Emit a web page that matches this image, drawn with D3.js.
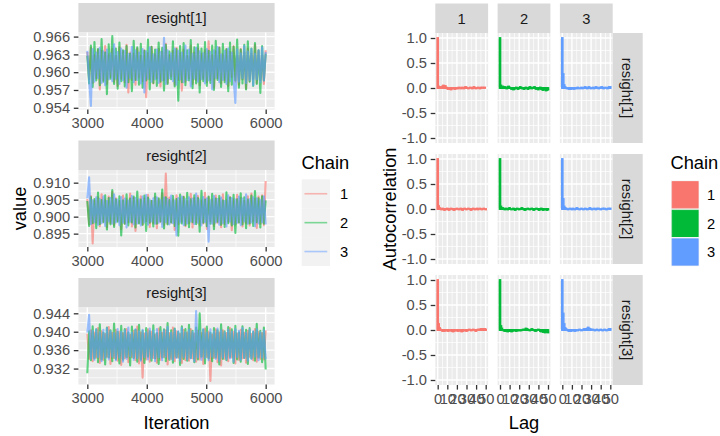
<!DOCTYPE html>
<html><head><meta charset="utf-8">
<script src="https://cdn.jsdelivr.net/npm/d3@7"></script>
<style>
body{margin:0;background:#fff}
svg{display:block}
text{font-family:"Liberation Sans",Arial,Helvetica,sans-serif}
</style>
</head><body>
<svg id="chart" width="720" height="436"></svg>
<script>
// ---- data ----
const parameters = ["resight[1]", "resight[2]", "resight[3]"];
const chains = ["1", "2", "3"];
const chainColors = ["#F8766D", "#00BA38", "#619CFF"];
const iterStart = 3000;
const iterStep = 30;
const iterTicks = [3000, 4000, 5000, 6000];

// thinned trace values, one array per parameter and chain
const traceP1C1 = [
0.9634,0.9588,0.9641,0.9582,0.9629,0.9590,0.9638,0.9571,0.9636,0.9586,
0.9644,0.9580,0.9630,0.9592,0.9639,0.9584,0.9627,0.9577,0.9642,0.9589,
0.9635,0.9583,0.9646,0.9566,0.9633,0.9587,0.9631,0.9579,0.9640,0.9591,
0.9628,0.9585,0.9637,0.9558,0.9632,0.9588,0.9643,0.9581,0.9630,0.9590,
0.9639,0.9576,0.9634,0.9586,0.9648,0.9582,0.9629,0.9593,0.9636,0.9579,
0.9641,0.9587,0.9632,0.9569,0.9638,0.9584,0.9627,0.9590,0.9645,0.9580,
0.9633,0.9586,0.9640,0.9578,0.9631,0.9589,0.9637,0.9583,0.9652,0.9587,
0.9629,0.9574,0.9635,0.9590,0.9642,0.9581,0.9630,0.9586,0.9638,0.9577,
0.9634,0.9592,0.9644,0.9584,0.9628,0.9579,0.9639,0.9588,0.9633,0.9572,
0.9640,0.9585,0.9631,0.9589,0.9646,0.9582,0.9636,0.9587,0.9629,0.9580,
0.9637];
const traceP1C2 = [
0.9628,0.9581,0.9645,0.9575,0.9651,0.9586,0.9639,0.9578,0.9656,0.9584,
0.9633,0.9563,0.9647,0.9589,0.9661,0.9580,0.9640,0.9572,0.9650,0.9585,
0.9637,0.9576,0.9644,0.9583,0.9631,0.9568,0.9653,0.9587,0.9642,0.9579,
0.9648,0.9574,0.9636,0.9586,0.9655,0.9571,0.9643,0.9582,0.9638,0.9577,
0.9650,0.9584,0.9641,0.9569,0.9646,0.9580,0.9635,0.9588,0.9652,0.9576,
0.9639,0.9552,0.9644,0.9583,0.9649,0.9578,0.9637,0.9586,0.9654,0.9573,
0.9642,0.9581,0.9647,0.9566,0.9640,0.9585,0.9651,0.9577,0.9636,0.9582,
0.9645,0.9570,0.9653,0.9587,0.9641,0.9575,0.9648,0.9583,0.9639,0.9568,
0.9650,0.9579,0.9643,0.9586,0.9655,0.9574,0.9638,0.9581,0.9646,0.9571,
0.9652,0.9584,0.9640,0.9577,0.9649,0.9580,0.9637,0.9565,0.9644,0.9586,
0.9631];
const traceP1C3 = [
0.9636,0.9587,0.9543,0.9639,0.9584,0.9633,0.9590,0.9641,0.9582,0.9635,
0.9578,0.9638,0.9588,0.9632,0.9585,0.9647,0.9589,0.9634,0.9580,0.9640,
0.9586,0.9636,0.9574,0.9631,0.9590,0.9643,0.9583,0.9637,0.9587,0.9633,
0.9581,0.9639,0.9566,0.9635,0.9589,0.9642,0.9584,0.9630,0.9588,0.9638,
0.9582,0.9634,0.9586,0.9658,0.9580,0.9637,0.9590,0.9632,0.9585,0.9640,
0.9579,0.9636,0.9588,0.9633,0.9583,0.9645,0.9587,0.9638,0.9576,0.9631,
0.9589,0.9641,0.9584,0.9635,0.9588,0.9632,0.9581,0.9639,0.9586,0.9634,
0.9571,0.9637,0.9590,0.9643,0.9583,0.9630,0.9587,0.9636,0.9580,0.9640,
0.9585,0.9633,0.9589,0.9548,0.9638,0.9584,0.9632,0.9590,0.9644,0.9582,
0.9635,0.9587,0.9639,0.9578,0.9631,0.9588,0.9637,0.9583,0.9642,0.9586,
0.9634];

const traceP2C1 = [
0.9052,0.8978,0.9061,0.8921,0.9048,0.8983,0.9057,0.8972,0.9066,0.8986,
0.9050,0.8969,0.9059,0.8981,0.9073,0.8975,0.9054,0.8988,0.9046,0.8963,
0.9062,0.8979,0.9051,0.8984,0.9068,0.8971,0.9055,0.8958,0.9049,0.8982,
0.9060,0.8976,0.9053,0.8987,0.9064,0.8970,0.9047,0.8980,0.9058,0.8966,
0.9051,0.8985,0.9069,0.8974,0.9127,0.8979,0.9056,0.8983,0.9050,0.8961,
0.9063,0.8977,0.9052,0.8986,0.9059,0.8972,0.9045,0.8981,0.9067,0.8968,
0.9054,0.8984,0.9061,0.8975,0.9048,0.8980,0.9070,0.8964,0.9057,0.8987,
0.9050,0.8973,0.9062,0.8982,0.9053,0.8969,0.9066,0.8978,0.9049,0.8985,
0.9058,0.8960,0.9051,0.8976,0.9064,0.8983,0.9055,0.8971,0.9047,0.8980,
0.9060,0.8974,0.9068,0.8986,0.9052,0.8967,0.9059,0.8979,0.9063,0.8975,
0.9105];
const traceP2C2 = [
0.9046,0.8973,0.9058,0.8981,0.9052,0.8966,0.9071,0.8978,0.9049,0.8984,
0.9063,0.8962,0.9055,0.8977,0.9078,0.8970,0.9051,0.8985,0.9060,0.8945,
0.9048,0.8979,0.9066,0.8974,0.9053,0.8983,0.9059,0.8968,0.9074,0.8980,
0.9050,0.8976,0.9062,0.8958,0.9056,0.8982,0.9047,0.8971,0.9068,0.8979,
0.9054,0.8986,0.9080,0.8965,0.9057,0.8977,0.9049,0.8983,0.9061,0.8973,
0.9052,0.8944,0.9065,0.8980,0.9058,0.8975,0.9070,0.8969,0.9051,0.8984,
0.9063,0.8978,0.9055,0.8956,0.9076,0.8982,0.9050,0.8972,0.9059,0.8979,
0.9067,0.8963,0.9053,0.8985,0.9061,0.8976,0.9048,0.8970,0.9072,0.8981,
0.9056,0.8974,0.9064,0.8952,0.9051,0.8983,0.9069,0.8977,0.9057,0.8966,
0.9050,0.8980,0.9062,0.8973,0.9075,0.8984,0.9054,0.8968,0.9060,0.8979,
0.9048];
const traceP2C3 = [
0.9054,0.9116,0.8978,0.9049,0.8984,0.9057,0.8976,0.9052,0.8981,0.9060,
0.8973,0.9047,0.8986,0.9055,0.8979,0.9066,0.8983,0.9050,0.8975,0.9058,
0.8982,0.9053,0.8968,0.9048,0.8985,0.9061,0.8977,0.9055,0.8980,0.9051,
0.8974,0.9059,0.8983,0.9064,0.8976,0.9050,0.8986,0.9054,0.8979,0.9057,
0.8982,0.9049,0.8970,0.9056,0.8984,0.9052,0.8977,0.9062,0.8981,0.9048,
0.8945,0.9055,0.8983,0.9059,0.8975,0.9051,0.8980,0.9057,0.8986,0.9053,
0.8978,0.9068,0.8982,0.9050,0.8974,0.9058,0.8984,0.9054,0.8926,0.9049,
0.8979,0.9061,0.8983,0.9052,0.8976,0.9056,0.8981,0.9047,0.8971,0.9063,
0.8985,0.9055,0.8978,0.9050,0.8982,0.9059,0.8975,0.9053,0.8986,0.9066,
0.8979,0.9051,0.8983,0.9057,0.8972,0.9054,0.8980,0.9049,0.8984,0.9060,
0.8977];

const traceP3C1 = [
0.9396,0.9341,0.9403,0.9336,0.9399,0.9344,0.9408,0.9332,0.9401,0.9339,
0.9395,0.9346,0.9410,0.9330,0.9398,0.9343,0.9404,0.9337,0.9400,0.9328,
0.9397,0.9342,0.9406,0.9334,0.9393,0.9345,0.9402,0.9338,0.9411,0.9331,
0.9399,0.9300,0.9396,0.9340,0.9405,0.9335,0.9400,0.9343,0.9394,0.9333,
0.9407,0.9339,0.9398,0.9345,0.9403,0.9329,0.9397,0.9341,0.9409,0.9336,
0.9401,0.9344,0.9395,0.9332,0.9404,0.9338,0.9399,0.9337,0.9406,0.9342,
0.9396,0.9335,0.9402,0.9340,0.9398,0.9330,0.9407,0.9345,0.9400,0.9293,
0.9394,0.9343,0.9405,0.9334,0.9399,0.9327,0.9403,0.9341,0.9397,0.9336,
0.9408,0.9344,0.9400,0.9331,0.9396,0.9339,0.9404,0.9342,0.9398,0.9333,
0.9402,0.9346,0.9395,0.9338,0.9406,0.9335,0.9400,0.9341,0.9397,0.9340,
0.9403];
const traceP3C2 = [
0.9310,0.9401,0.9338,0.9412,0.9342,0.9405,0.9334,0.9416,0.9340,0.9398,
0.9329,0.9409,0.9344,0.9403,0.9336,0.9418,0.9341,0.9400,0.9331,0.9413,
0.9339,0.9406,0.9345,0.9399,0.9327,0.9411,0.9343,0.9404,0.9335,0.9415,
0.9340,0.9402,0.9332,0.9408,0.9346,0.9401,0.9337,0.9414,0.9342,0.9397,
0.9330,0.9410,0.9344,0.9405,0.9336,0.9419,0.9339,0.9403,0.9333,0.9407,
0.9345,0.9400,0.9328,0.9412,0.9341,0.9406,0.9337,0.9415,0.9343,0.9402,
0.9334,0.9409,0.9340,0.9440,0.9346,0.9404,0.9331,0.9411,0.9342,0.9398,
0.9336,0.9408,0.9344,0.9403,0.9329,0.9416,0.9341,0.9401,0.9338,0.9410,
0.9345,0.9405,0.9332,0.9413,0.9340,0.9399,0.9335,0.9412,0.9343,0.9404,
0.9330,0.9408,0.9342,0.9400,0.9337,0.9417,0.9344,0.9402,0.9334,0.9409,
0.9318];
const traceP3C3 = [
0.9398,0.9437,0.9342,0.9402,0.9339,0.9405,0.9345,0.9399,0.9336,0.9404,
0.9343,0.9408,0.9340,0.9401,0.9346,0.9397,0.9338,0.9406,0.9344,0.9400,
0.9335,0.9403,0.9341,0.9409,0.9347,0.9398,0.9339,0.9405,0.9343,0.9401,
0.9337,0.9404,0.9345,0.9399,0.9340,0.9407,0.9342,0.9402,0.9336,0.9406,
0.9344,0.9400,0.9338,0.9403,0.9346,0.9410,0.9341,0.9398,0.9339,0.9405,
0.9343,0.9401,0.9337,0.9408,0.9345,0.9399,0.9340,0.9404,0.9342,0.9400,
0.9336,0.9445,0.9344,0.9402,0.9339,0.9406,0.9343,0.9398,0.9338,0.9405,
0.9346,0.9401,0.9341,0.9407,0.9337,0.9403,0.9344,0.9399,0.9340,0.9404,
0.9342,0.9400,0.9335,0.9406,0.9345,0.9402,0.9339,0.9408,0.9343,0.9398,
0.9337,0.9404,0.9341,0.9401,0.9346,0.9405,0.9338,0.9399,0.9344,0.9403,
0.9340];

const traceTicksP1 = [0.954, 0.957, 0.960, 0.963, 0.966];
const traceTicksP2 = [0.895, 0.900, 0.905, 0.910];
const traceTicksP3 = [0.932, 0.936, 0.940, 0.944];

// autocorrelation by lag 0..50, one array per parameter and chain
const acfP1C1 = [1.00,0.03,0.01,0.02,0.00,0.03,0.05,0.02,0.04,0.01,
 -0.01,-0.02,0.00,-0.02,-0.03,-0.01,0.00,-0.01,-0.02,-0.01,
 0.00,-0.01,0.01,0.00,-0.01,0.01,0.00,-0.01,0.01,0.02,
 0.01,0.00,-0.01,0.00,0.01,0.00,-0.01,0.01,0.02,0.00,
 -0.01,0.00,0.01,0.00,-0.01,0.01,0.00,0.01,0.00,0.01,0.00];
const acfP1C2 = [1.00,0.05,0.02,0.03,0.01,0.02,0.00,-0.01,0.02,0.03,
 0.01,0.00,-0.02,-0.01,-0.03,-0.02,0.00,0.01,-0.01,-0.02,
 0.00,0.02,0.01,-0.01,0.00,-0.02,-0.01,0.01,0.00,-0.02,
 -0.01,0.02,0.01,-0.01,0.00,0.01,0.02,-0.01,-0.02,0.00,
 -0.03,-0.01,0.01,-0.02,-0.03,-0.04,-0.02,-0.03,-0.05,-0.04,-0.03];
const acfP1C3 = [1.00,0.28,0.06,0.02,0.00,-0.01,0.00,-0.02,-0.01,-0.02,
 -0.01,0.00,-0.02,-0.01,0.00,-0.01,0.01,0.00,-0.01,0.00,
 0.01,-0.01,0.00,0.01,0.02,0.00,-0.01,0.01,0.02,0.00,
 -0.01,0.00,0.01,-0.01,0.00,0.02,0.01,0.00,-0.01,0.01,
 0.00,0.02,0.01,-0.01,0.00,0.01,0.00,-0.01,0.01,0.02,0.02];
const acfP2C1 = [1.00,0.06,0.02,0.00,-0.01,0.01,0.00,-0.02,-0.01,0.00,
 0.01,-0.01,-0.02,0.00,0.01,0.00,-0.01,-0.02,-0.01,0.00,
 0.01,0.00,-0.01,0.00,0.01,-0.01,-0.02,0.00,0.01,0.00,
 -0.01,0.00,0.01,0.00,-0.01,-0.02,0.00,0.01,0.00,-0.01,
 0.00,0.01,-0.01,0.00,0.01,0.00,-0.01,0.00,0.01,0.00,-0.01];
const acfP2C2 = [1.00,0.05,0.01,0.02,0.00,-0.01,0.01,0.00,-0.01,0.01,
 0.02,0.00,-0.01,0.00,0.01,-0.01,-0.02,0.00,0.01,0.00,
 -0.01,0.00,0.01,0.02,0.00,-0.01,-0.02,-0.01,0.00,0.01,
 0.00,-0.01,0.00,0.01,0.00,-0.02,-0.01,0.00,0.01,0.00,
 -0.01,-0.02,0.00,0.01,-0.01,-0.02,-0.01,0.00,-0.01,-0.02,-0.01];
const acfP2C3 = [1.00,0.20,0.05,0.02,0.01,0.00,-0.01,0.00,0.01,0.00,
 -0.01,0.01,0.00,-0.01,0.00,0.02,0.01,0.00,-0.01,0.00,
 0.01,0.00,-0.01,0.00,0.01,0.00,-0.01,0.00,0.01,0.02,
 0.00,-0.01,0.00,0.01,0.00,-0.01,0.01,0.00,0.01,0.00,
 -0.01,0.00,0.01,0.00,0.01,0.00,-0.01,0.00,0.01,0.00,0.01];
const acfP3C1 = [1.00,0.12,0.04,0.01,0.00,-0.02,-0.01,-0.02,-0.01,0.00,
 -0.01,-0.02,-0.01,0.00,-0.01,-0.02,-0.03,-0.02,-0.01,0.00,
 -0.01,-0.02,-0.01,0.00,-0.02,-0.03,-0.02,-0.01,0.00,-0.01,
 -0.02,-0.01,0.00,0.01,0.00,-0.01,0.00,0.01,0.00,-0.01,
 -0.02,0.00,0.01,0.00,0.01,0.02,0.01,0.02,0.01,0.02,0.01];
const acfP3C2 = [1.00,0.08,0.03,0.00,-0.01,-0.02,-0.01,-0.02,-0.03,-0.02,
 -0.01,-0.02,-0.03,-0.02,-0.01,0.00,-0.01,-0.02,-0.01,0.00,
 -0.01,0.00,-0.01,0.00,0.01,0.00,0.01,0.03,0.02,0.01,
 0.00,-0.01,0.00,0.02,0.01,0.00,-0.01,-0.02,-0.01,0.00,
 0.01,0.00,-0.02,-0.03,-0.02,-0.04,-0.03,-0.05,-0.04,-0.03,-0.05];
const acfP3C3 = [1.00,0.33,0.12,0.04,0.02,0.00,-0.01,-0.02,-0.01,-0.02,
 -0.01,0.00,-0.01,-0.02,-0.01,0.00,-0.01,0.00,0.01,0.00,
 -0.01,0.00,0.01,0.02,0.01,0.02,0.03,0.05,0.03,0.02,
 0.01,0.00,0.01,0.00,-0.01,0.00,0.01,0.00,-0.01,0.00,
 0.01,0.00,-0.01,0.00,0.01,0.00,-0.01,0.00,0.01,0.02,0.02];

const lagTicks = [0, 10, 20, 30, 40, 50];
const acfTicks = [-1, -0.5, 0, 0.5, 1];
const acfLimits = [-1, 1];

// ---- drawing ----
const traces = [[traceP1C1, traceP1C2, traceP1C3],
                [traceP2C1, traceP2C2, traceP2C3],
                [traceP3C1, traceP3C2, traceP3C3]];
const traceTicks = [traceTicksP1, traceTicksP2, traceTicksP3];
const acfs = [[acfP1C1, acfP1C2, acfP1C3],
              [acfP2C1, acfP2C2, acfP2C3],
              [acfP3C1, acfP3C2, acfP3C3]];

const svg = d3.select("#chart");
const PANEL = "#EBEBEB", STRIP = "#D9D9D9", TICK = "#333333", TICKTXT = "#4D4D4D";
const TXT = 14.7, TITLE = 18.3;
const TRACE_ALPHA = 0.62, TRACE_WIDTH = 2.1;

function expand([a, b], f = 0.05) { const d = (b - a) * f; return [a - d, b + d]; }
function minorOf(ticks, dom) {
  const step = ticks[1] - ticks[0];
  const out = [ticks[0] - step / 2, ...ticks.map(t => t + step / 2)];
  return out.filter(v => v > dom[0] && v < dom[1]);
}
function styleAxis(g) {
  g.select(".domain").remove();
  g.selectAll(".tick line").attr("stroke", TICK).attr("stroke-width", 1.3);
  g.selectAll(".tick text").attr("fill", TICKTXT).attr("font-size", TXT)
    .attr("font-family", "'Liberation Sans', Arial, sans-serif");
}
function grid(g, x0, x1, y0, y1, xs, ys, width, xMap, yMap) {
  xs.forEach(v => g.append("line").attr("x1", xMap(v)).attr("x2", xMap(v))
    .attr("y1", y0).attr("y2", y1).attr("stroke", "#fff").attr("stroke-width", width));
  ys.forEach(v => g.append("line").attr("y1", yMap(v)).attr("y2", yMap(v))
    .attr("x1", x0).attr("x2", x1).attr("stroke", "#fff").attr("stroke-width", width));
}

// ===== trace plots (left) =====
const T = { x0: 78.4, x1: 274.6, top0: 3, pitch: 137.5, strip: 29.5, ph: 77 };
const nIter = traceP1C1.length;
const xIter = d3.scaleLinear()
  .domain(expand([iterStart, iterStart + iterStep * (nIter - 1)]))
  .range([T.x0, T.x1]);
const xIterMinor = minorOf(iterTicks, xIter.domain());

traces.forEach((chs, r) => {
  const top = T.top0 + r * T.pitch, py0 = top + T.strip, py1 = py0 + T.ph;
  const y = d3.scaleLinear().domain(expand(d3.extent(chs.flat()))).range([py1, py0]);
  const g = svg.append("g");
  g.append("rect").attr("x", T.x0).attr("y", top).attr("width", T.x1 - T.x0)
    .attr("height", T.strip).attr("fill", STRIP);
  g.append("text").attr("x", (T.x0 + T.x1) / 2).attr("y", top + T.strip / 2)
    .attr("dy", "0.36em").attr("text-anchor", "middle").attr("font-size", TXT)
    .attr("fill", "#1A1A1A").text(parameters[r]);
  g.append("rect").attr("x", T.x0).attr("y", py0).attr("width", T.x1 - T.x0)
    .attr("height", T.ph).attr("fill", PANEL);
  grid(g, T.x0, T.x1, py0, py1, xIterMinor, minorOf(traceTicks[r], y.domain()), 0.7, xIter, y);
  grid(g, T.x0, T.x1, py0, py1, iterTicks, traceTicks[r], 1.4, xIter, y);
  const line = d3.line().x((d, i) => xIter(iterStart + i * iterStep)).y(d => y(d));
  chs.forEach((vals, c) => {
    g.append("path").attr("d", line(vals)).attr("fill", "none")
      .attr("stroke", chainColors[c]).attr("stroke-opacity", TRACE_ALPHA)
      .attr("stroke-width", TRACE_WIDTH).attr("stroke-linejoin", "round");
  });
  g.append("g").attr("transform", `translate(${T.x0},0)`)
    .call(d3.axisLeft(y).tickValues(traceTicks[r]).tickFormat(d3.format(".3f"))
      .tickSize(4.6).tickPadding(3.7)).call(styleAxis);
  g.append("g").attr("transform", `translate(0,${py1})`)
    .call(d3.axisBottom(xIter).tickValues(iterTicks).tickFormat(d3.format("d"))
      .tickSize(4.6).tickPadding(3.7)).call(styleAxis);
});

svg.append("text").attr("transform", "translate(25.5,208.5) rotate(-90)")
  .attr("text-anchor", "middle").attr("font-size", TITLE).text("value");
svg.append("text").attr("x", (T.x0 + T.x1) / 2).attr("y", 429)
  .attr("text-anchor", "middle").attr("font-size", TITLE).text("Iteration");

// legend: line keys
{
  const lx = 301.7, ly = 179.3, k = 28.9;
  svg.append("text").attr("x", 301.5).attr("y", 169.3).attr("font-size", TITLE).text("Chain");
  chains.forEach((c, i) => {
    svg.append("rect").attr("x", lx).attr("y", ly + i * k).attr("width", 28.3)
      .attr("height", k).attr("fill", "#F2F2F2");
    svg.append("line").attr("x1", lx + 2.8).attr("x2", lx + 25.5)
      .attr("y1", ly + i * k + k / 2).attr("y2", ly + i * k + k / 2)
      .attr("stroke", chainColors[i]).attr("stroke-opacity", 0.5).attr("stroke-width", 1.6);
    svg.append("text").attr("x", 340).attr("y", ly + i * k + k / 2).attr("dy", "0.36em")
      .attr("font-size", TXT).attr("fill", "#000").text(c);
  });
}

// ===== autocorrelation grid (right) =====
const A = { x0: 435.3, colPitch: 62.3, pw: 52.8, top0: 33, rowPitch: 121, ph: 110,
            stripTop: 3.5, stripRight: 30 };
const nLag = acfP1C1.length;
const yAcfDom = expand(acfLimits);
const yAcfMinor = minorOf(acfTicks, yAcfDom);
const fmt1 = d => d.toFixed(1);

chains.forEach((ch, c) => {
  const x0 = A.x0 + c * A.colPitch;
  svg.append("rect").attr("x", x0).attr("y", A.stripTop).attr("width", A.pw)
    .attr("height", A.top0 - A.stripTop).attr("fill", STRIP);
  svg.append("text").attr("x", x0 + A.pw / 2).attr("y", (A.stripTop + A.top0) / 2)
    .attr("dy", "0.36em").attr("text-anchor", "middle").attr("font-size", TXT)
    .attr("fill", "#1A1A1A").text(ch);
});

acfs.forEach((row, r) => {
  const py0 = A.top0 + r * A.rowPitch, py1 = py0 + A.ph;
  const y = d3.scaleLinear().domain(yAcfDom).range([py1, py0]);
  row.forEach((vals, c) => {
    const x0 = A.x0 + c * A.colPitch, x1 = x0 + A.pw;
    const x = d3.scaleLinear().domain(expand([0, nLag - 1])).range([x0, x1]);
    const g = svg.append("g");
    g.append("rect").attr("x", x0).attr("y", py0).attr("width", A.pw).attr("height", A.ph)
      .attr("fill", PANEL);
    grid(g, x0, x1, py0, py1, minorOf(lagTicks, x.domain()), yAcfMinor, 0.7, x, y);
    grid(g, x0, x1, py0, py1, lagTicks, acfTicks, 1.4, x, y);
    g.selectAll("rect.bar").data(vals).join("rect").attr("class", "bar")
      .attr("x", (d, i) => x(i - 0.45)).attr("width", (d, i) => x(i + 0.45) - x(i - 0.45))
      .attr("y", d => y(Math.max(0, d))).attr("height", d => Math.abs(y(d) - y(0)))
      .attr("fill", chainColors[c]).attr("stroke", chainColors[c]).attr("stroke-width", 1.8);
    if (c === 0) {
      g.append("g").attr("transform", `translate(${x0},0)`)
        .call(d3.axisLeft(y).tickValues(acfTicks).tickFormat(fmt1).tickSize(4.6).tickPadding(3.7))
        .call(styleAxis);
    }
    if (r === acfs.length - 1) {
      g.append("g").attr("transform", `translate(0,${py1})`)
        .call(d3.axisBottom(x).tickValues(lagTicks).tickFormat(d => String(d)).tickSize(4.6).tickPadding(3.7))
        .call(styleAxis);
    }
  });
  const sx = A.x0 + 2 * A.colPitch + A.pw;
  svg.append("rect").attr("x", sx).attr("y", py0).attr("width", A.stripRight)
    .attr("height", A.ph).attr("fill", STRIP);
  svg.append("text").attr("transform", `translate(${sx + A.stripRight / 2},${py0 + A.ph / 2}) rotate(90)`)
    .attr("dy", "0.36em").attr("text-anchor", "middle").attr("font-size", TXT)
    .attr("fill", "#1A1A1A").text(parameters[r]);
});

svg.append("text").attr("transform", `translate(396,${A.top0 + (2 * A.rowPitch + A.ph) / 2}) rotate(-90)`)
  .attr("text-anchor", "middle").attr("font-size", TITLE).text("Autocorrelation");
svg.append("text").attr("x", A.x0 + A.colPitch + A.pw / 2).attr("y", 429)
  .attr("text-anchor", "middle").attr("font-size", TITLE).text("Lag");

// legend: filled keys
{
  const lx = 671, ly = 180.5, k = 28.6;
  svg.append("text").attr("x", 670.5).attr("y", 169.3).attr("font-size", TITLE).text("Chain");
  chains.forEach((c, i) => {
    svg.append("rect").attr("x", lx).attr("y", ly + i * k).attr("width", 28.3)
      .attr("height", k).attr("fill", "#F2F2F2");
    svg.append("rect").attr("x", lx + 1.2).attr("y", ly + i * k + 1.2).attr("width", 25.9)
      .attr("height", k - 2.4).attr("fill", chainColors[i])
      .attr("stroke", chainColors[i]).attr("stroke-width", 1);
    svg.append("text").attr("x", 707).attr("y", ly + i * k + k / 2).attr("dy", "0.36em")
      .attr("font-size", TXT).attr("fill", "#000").text(c);
  });
}
</script>
</body></html>
